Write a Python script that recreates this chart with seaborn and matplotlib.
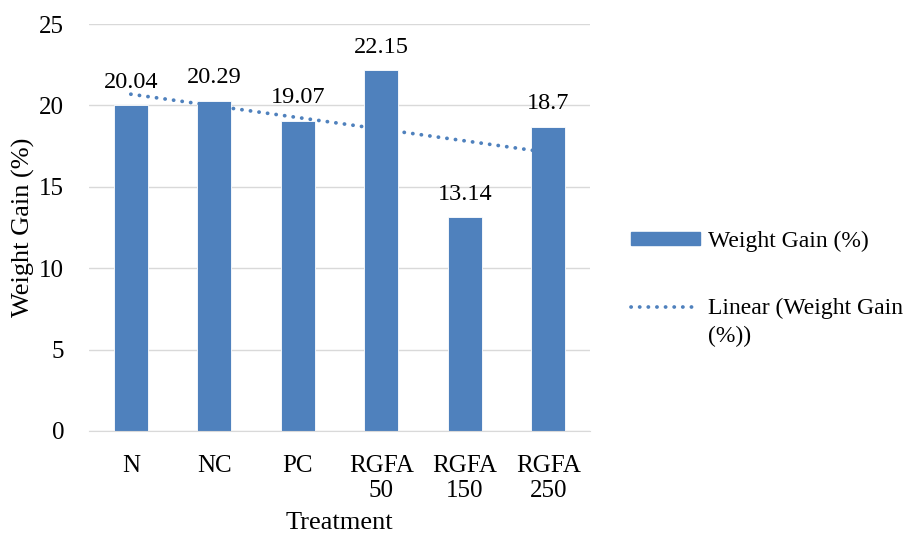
import numpy as np
import pandas as pd
import matplotlib
matplotlib.use("Agg")
import matplotlib.pyplot as plt
import seaborn as sns
from matplotlib.patches import Patch
from matplotlib.lines import Line2D

categorias = ["N", "NC", "PC", "RGFA\n50", "RGFA\n150", "RGFA\n250"]
ganancia = [20.04, 20.29, 19.07, 22.15, 13.14, 18.7]
etiquetas = ["20.04", "20.29", "19.07", "22.15", "13.14", "18.7"]

AZUL = "#4F81BD"

sns.set_style("white")
plt.rcParams["font.family"] = ["Liberation Serif", "DejaVu Serif"]
plt.rcParams["font.size"] = 17
for k in ["text.color", "axes.labelcolor", "xtick.color", "ytick.color"]:
    plt.rcParams[k] = "black"

df = pd.DataFrame({"Treatment": categorias, "Weight Gain (%)": ganancia})

fig = plt.figure(figsize=(9.09, 5.34), dpi=100)
ax = fig.add_axes([0.098, 0.193, 0.551, 0.762])

sns.barplot(data=df, x="Treatment", y="Weight Gain (%)", color=AZUL,
            width=0.41, saturation=1, edgecolor="white", linewidth=0.6, ax=ax)

# linea de tendencia lineal (puntos redondos)
punteado = (0, (0.05, 2.25))
xs = np.arange(len(ganancia))
m, b = np.polyfit(xs + 1, ganancia, 1)
ax.plot(xs, m * (xs + 1) + b, color=AZUL, linestyle=punteado,
        linewidth=2.7, dash_capstyle="round", zorder=3)

# etiquetas de datos
for x, v, t in zip(xs, ganancia, etiquetas):
    ax.text(x, v + 0.75, t, ha="center", va="bottom", fontsize=17.5)

ax.set_ylim(0, 25)
ax.set_yticks(range(0, 26, 5))
ax.set_xlim(-0.5, len(categorias) - 0.5)
ax.grid(axis="y", color="#D9D9D9", linewidth=1)
ax.set_axisbelow(True)
for s in ["top", "right", "left"]:
    ax.spines[s].set_visible(False)
ax.spines["bottom"].set_color("#D9D9D9")
ax.tick_params(axis="x", length=0, labelsize=18, pad=17)
ax.tick_params(axis="y", length=0, labelsize=18, pad=18)
ax.set_xlabel("Treatment", fontsize=19, labelpad=7)
ax.set_ylabel("Weight Gain (%)", fontsize=19, labelpad=3)

handles = [Patch(facecolor=AZUL, edgecolor=AZUL),
           Line2D([0], [0], color=AZUL, linestyle=punteado, linewidth=2.7,
                  dash_capstyle="round")]
leg = fig.legend(handles, ["Weight Gain (%)", "Linear (Weight Gain"],
                 loc="upper left", bbox_to_anchor=(0.684, 0.585), frameon=False,
                 fontsize=17, handlelength=2.9, handleheight=0.45,
                 labelspacing=1.95, handletextpad=0.35, borderaxespad=0)

# segunda linea de la etiqueta de tendencia
fig.canvas.draw()
r = fig.canvas.get_renderer()
bb = leg.get_texts()[1].get_window_extent(r)
x0, y0 = fig.transFigure.inverted().transform((bb.x0, bb.y0))
fig.text(x0, y0 - 0.012, "(%))", ha="left", va="top", fontsize=17)

fig.savefig("out.png", dpi=100)
